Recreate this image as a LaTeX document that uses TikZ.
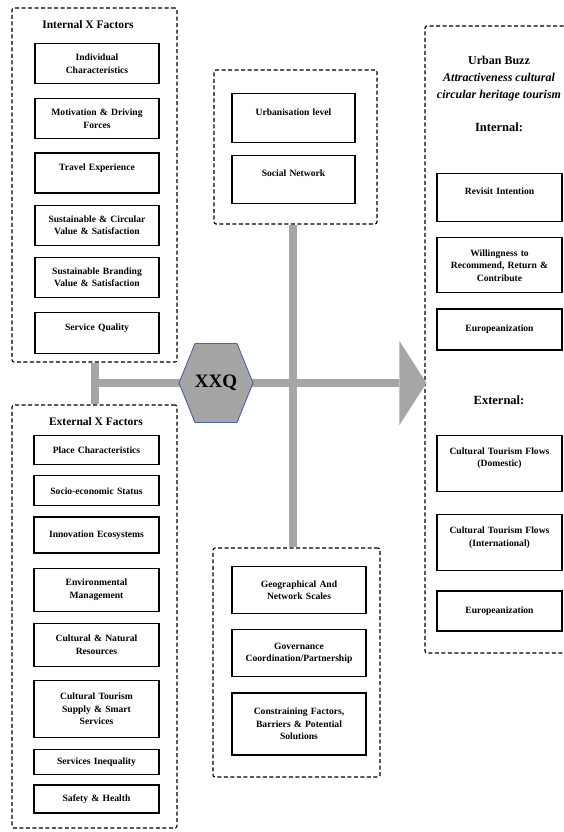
\documentclass[tikz,border=0pt]{standalone}
\usepackage{fontspec}
\setmainfont{Liberation Serif}
\usepackage{tikz}
\usetikzlibrary{positioning,arrows.meta}
\usepackage{xcolor}

\definecolor{bargray}{HTML}{A6A6A6}
\definecolor{hexgray}{HTML}{A5A5A5}
\definecolor{hexblue}{HTML}{4A64A0}

\begin{document}
\begin{tikzpicture}[
    x=1pt, y=-1pt,
    node distance=12pt,
    box/.style={draw, line width=1.2pt, anchor=north, align=center, text width=#1,
        inner xsep=3pt, inner ysep=3pt, font=\fontsize{9.6}{12.5}\selectfont\bfseries},
    box/.default=118pt,
    group/.style={draw, dash pattern=on 4pt off 2.5pt, line width=1.1pt, rounded corners=2pt},
    title/.style={font=\fontsize{11.5}{14}\selectfont\bfseries},
    bar/.style={draw=bargray, line width=8pt}
]
    \useasboundingbox (0,0) rectangle (564,832);
    \clip (0,0) rectangle (564,832);

    % Groups (dashed frames)
    \node[group, minimum width=165pt, minimum height=354pt] (intg) at (94.5,185) {};
    \node[group, minimum width=165pt, minimum height=423pt] (extg) at (94.5,616.5) {};
    \node[group, minimum width=163pt, minimum height=154pt] (topg) at (295.5,147) {};
    \node[group, minimum width=167pt, minimum height=229pt] (botg) at (296.5,662.5) {};
    \node[group, minimum width=147pt, minimum height=627pt] (buzzg) at (498.5,339.5) {};

    % Internal X Factors
    \node[title] (inttitle) at (88,25) {Internal X Factors};
    \node[box, minimum height=40pt] (i1) at (97,43) {Individual\\Characteristics};
    \node[box, minimum height=40pt, below=14pt of i1] (i2) {Motivation \& Driving\\Forces};
    \node[box, minimum height=40pt, below=13pt of i2] (i3) {Travel Experience\\~};
    \node[box, minimum height=40pt, below=11pt of i3] (i4) {Sustainable \& Circular\\Value \& Satisfaction};
    \node[box, minimum height=40pt, below=11pt of i4] (i5) {Sustainable Branding\\Value \& Satisfaction};
    \node[box, minimum height=41pt, below=14pt of i5] (i6) {Service Quality\\~};

    % External X Factors
    \node[title] (exttitle) at (96,422) {External X Factors};
    \node[box=119pt, minimum height=29pt] (e1) at (96.5,435) {Place Characteristics};
    \node[box=119pt, minimum height=30pt, below=10pt of e1] (e2) {Socio-economic Status};
    \node[box=119pt, minimum height=36pt, below=10pt of e2] (e3) {Innovation Ecosystems};
    \node[box=119pt, minimum height=43pt, below=14pt of e3] (e4) {Environmental\\Management};
    \node[box=119pt, minimum height=43pt, below=11pt of e4] (e5) {Cultural \& Natural\\Resources};
    \node[box=119pt, minimum height=57pt, below=13pt of e5] (e6) {Cultural Tourism\\Supply \& Smart\\Services};
    \node[box=119pt, minimum height=25pt, below=11pt of e6] (e7) {Services Inequality};
    \node[box=119pt, minimum height=28pt, below=9pt of e7] (e8) {Safety \& Health};

    % Top middle
    \node[box=117pt, minimum height=49pt] (u1) at (293.5,93) {Urbanisation level\\~};
    \node[box=117pt, minimum height=48pt, below=12pt of u1] (u2) {Social Network\\~};

    % Bottom middle
    \node[box=128pt, minimum height=47pt] (g1) at (299,566) {Geographical And\\Network Scales};
    \node[box=128pt, minimum height=47pt, below=15pt of g1] (g2) {Governance\\Coordination/Partnership};
    \node[box=128pt, minimum height=62pt, below=15pt of g2] (g3) {Constraining Factors,\\Barriers \& Potential\\Solutions};

    % Urban Buzz
    \node[title, align=center, font=\fontsize{12}{17}\selectfont\bfseries] (buzztitle) at (499,79)
        {Urban Buzz\\\itshape Attractiveness cultural\\\itshape circular heritage tourism};
    \node[title, font=\fontsize{12.5}{14}\selectfont\bfseries] (intlabel) at (499,127) {Internal:};
    \node[box=119pt, minimum height=48pt] (r1) at (499.5,173) {Revisit Intention\\~};
    \node[box=119pt, minimum height=55pt, below=15pt of r1] (r2) {Willingness to\\Recommend, Return \&\\Contribute};
    \node[box=119pt, minimum height=41pt, below=15pt of r2] (r3) {Europeanization};
    \node[title, font=\fontsize{12.5}{14}\selectfont\bfseries] (extlabel) at (499,400) {External:};
    \node[box=119pt, minimum height=56pt] (r4) at (499.5,435) {Cultural Tourism Flows\\(Domestic)\\~};
    \node[box=119pt, minimum height=56pt, below=22pt of r4] (r5) {Cultural Tourism Flows\\(International)\\~};
    \node[box=119pt, minimum height=40pt, below=19pt of r5] (r6) {Europeanization};

    % Gray bars
    \coordinate (hub) at (216,383);
    \draw[bar] (intg.south) -- (extg.north);
    \draw[bar] ([xshift=-2.5pt]topg.south) -- ([xshift=-3.5pt]botg.north);
    \draw[bar, shorten >=-2pt, -{Triangle[length=27pt, width=84pt, line width=0pt]}]
        (intg.south |- hub) -- (buzzg.west |- hub);

    % Hexagon
    \draw[fill=hexgray, draw=hexblue, line width=0.9pt] (hub) ++(-37,0) -- ++(16,-39.5) -- ++(42,0)
        -- ++(16,39.5) -- ++(-16,39.5) -- ++(-42,0) -- cycle;
    \node[font=\fontsize{19}{20}\selectfont\bfseries] (xxq) at (hub) {XXQ};
\end{tikzpicture}
\end{document}
